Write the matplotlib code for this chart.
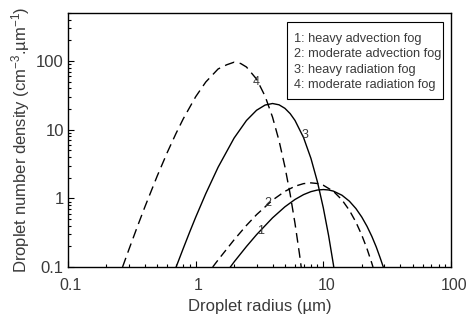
import matplotlib
matplotlib.use('Agg')
import matplotlib.pyplot as plt
import matplotlib.transforms as mtransforms
from matplotlib.patches import Rectangle
from matplotlib.ticker import LogLocator, FixedLocator, FixedFormatter, NullFormatter

plt.rcParams['font.family'] = ['Liberation Sans', 'DejaVu Sans']
plt.rcParams['mathtext.default'] = 'regular'
# ------------------------------
# droplet radius (um) / number density (cm-3.um-1)
r_heavy_adv = [1.87, 2, 2.5, 3, 4, 5, 6, 7, 8, 9, 10, 11, 12, 14, 16, 18, 20, 22, 24, 26, 28, 29.5]
n_heavy_adv = [0.1, 0.1185, 0.199, 0.296, 0.52, 0.753, 0.964, 1.134, 1.254, 1.323, 1.344,
               1.325, 1.275, 1.111, 0.91, 0.711, 0.535, 0.391, 0.279, 0.195, 0.133, 0.1]

r_mod_adv = [1.36, 1.5, 2, 2.5, 3, 4, 5, 6, 7, 8, 9, 10, 12, 14, 16, 18, 20, 22, 24, 24.5]
n_mod_adv = [0.1, 0.127, 0.249, 0.404, 0.579, 0.943, 1.265, 1.503, 1.64, 1.682, 1.646,
             1.552, 1.267, 0.95, 0.67, 0.451, 0.292, 0.184, 0.113, 0.1]

r_heavy_rad = [0.703, 0.8, 0.9, 1, 1.2, 1.5, 2, 2.5, 3, 3.5, 4, 4.5, 5, 5.5, 6, 7, 8, 9, 10, 11, 12, 12.07]
n_heavy_rad = [0.1, 0.187, 0.327, 0.53, 1.171, 2.85, 7.56, 13.63, 19.22, 22.89, 24.1, 23.07,
               20.51, 17.16, 13.66, 7.69, 3.82, 1.73, 0.726, 0.287, 0.108, 0.1]

r_mod_rad = [0.2675, 0.3, 0.35, 0.4, 0.5, 0.6, 0.7, 0.8, 1, 1.2, 1.5, 1.75, 2, 2.25, 2.5,
             3, 3.5, 4, 4.5, 5, 5.5, 6, 6.5, 6.71]
n_mod_rad = [0.1, 0.18, 0.391, 0.75, 2.12, 4.69, 8.75, 14.45, 30.25, 49.56, 76.87, 88.34,
             96.4, 92.3, 82.0, 54.65, 30.75, 15.29, 6.92, 2.9, 1.148, 0.432, 0.156, 0.1]

legend_lines = ['1: heavy advection fog', '2: moderate advection fog',
                '3: heavy radiation fog', '4: moderate radiation fog']
x_ticks = [0.1, 1, 10, 100]
x_tick_labels = ['0.1', '1', '10', '100']
y_ticks = [0.1, 1, 10, 100]
y_tick_labels = ['0.1', '1', '10', '100']
# ------------------------------
TEXT_COLOR = '#3a3a3a'

fig = plt.figure(figsize=(4.67, 3.2), dpi=100)
ax = fig.add_axes([0.1456, 0.1656, 0.8201, 0.7934])

ax.plot(r_heavy_adv, n_heavy_adv, color='black', lw=1.0)
ax.plot(r_mod_adv, n_mod_adv, color='black', lw=1.0, dashes=(6, 3.5))
ax.plot(r_heavy_rad, n_heavy_rad, color='black', lw=1.0)
ax.plot(r_mod_rad, n_mod_rad, color='black', lw=1.0, dashes=(7, 4))

ax.set_xscale('log')
ax.set_yscale('log')
ax.set_xlim(0.1, 100)
ax.set_ylim(0.1, 500)

ax.xaxis.set_major_locator(FixedLocator(x_ticks))
ax.xaxis.set_major_formatter(FixedFormatter(x_tick_labels))
ax.yaxis.set_major_locator(FixedLocator(y_ticks))
ax.yaxis.set_major_formatter(FixedFormatter(y_tick_labels))
ax.xaxis.set_minor_locator(LogLocator(base=10, subs=range(2, 10)))
ax.yaxis.set_minor_locator(LogLocator(base=10, subs=range(2, 10)))
ax.xaxis.set_minor_formatter(NullFormatter())
ax.yaxis.set_minor_formatter(NullFormatter())

ax.tick_params(which='both', direction='in', top=False, right=False,
               labelcolor=TEXT_COLOR, width=0.8)
ax.tick_params(which='major', length=4)
ax.tick_params(which='minor', length=2.5)
ax.tick_params(axis='x', labelsize=11.5, pad=8)
ax.tick_params(axis='y', labelsize=12, pad=3)
# x tick labels sit a little right of their ticks in the original
shift = mtransforms.ScaledTranslation(3 / 100, 0, fig.dpi_scale_trans)
for lab in ax.get_xticklabels():
    lab.set_transform(lab.get_transform() + shift)
for s in ax.spines.values():
    s.set_linewidth(1.0)

ax.set_xlabel('Droplet radius (µm)', fontsize=12, color=TEXT_COLOR, labelpad=4)
ax.set_ylabel('Droplet number density (cm$^{-3}$.µm$^{-1}$)', fontsize=12,
              color=TEXT_COLOR, labelpad=3)

# curve numbers
label_kw = dict(fontsize=9, color=TEXT_COLOR, ha='center', va='center')
ax.text(3.2, 0.33, '1', **label_kw)
ax.text(3.7, 0.87, '2', **label_kw)
ax.text(7.2, 8.4, '3', **label_kw)
ax.text(3.0, 50, '4', **label_kw)

# text legend in a box
ax.add_patch(Rectangle((0.572, 0.661), 0.407, 0.304, transform=ax.transAxes,
                       facecolor='white', edgecolor='black', lw=0.8, zorder=3))
for i, line in enumerate(legend_lines):
    ax.text(0.59, 0.898 - i * 0.0605, line, transform=ax.transAxes, fontsize=9.2,
            color=TEXT_COLOR, ha='left', va='center', zorder=4)

fig.savefig('out.png', dpi=100)
